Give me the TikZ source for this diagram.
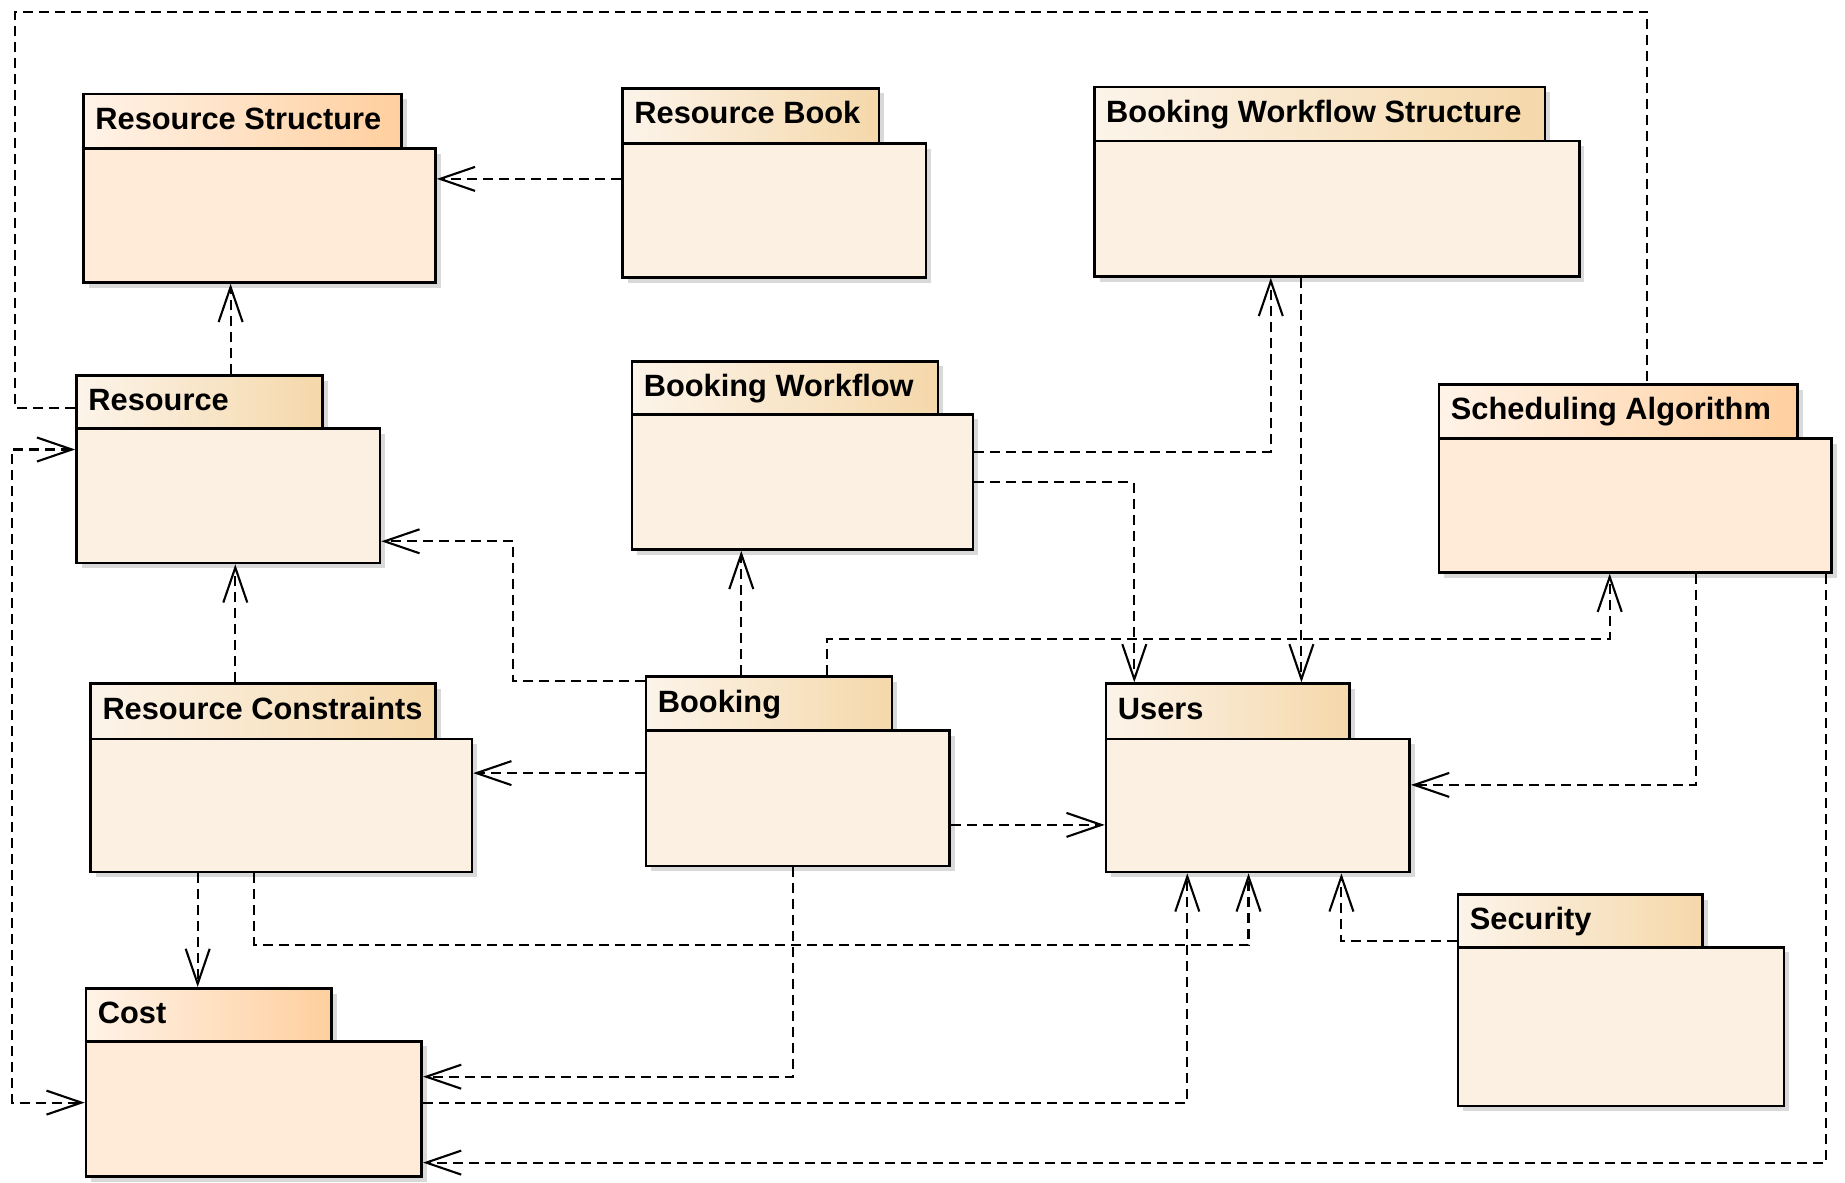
\documentclass[tikz,border=0pt]{standalone}
\usepackage{fontspec}
\setmainfont{Liberation Sans}
\usetikzlibrary{arrows.meta,fit,shadows}

% colour schemes for the package boxes
\definecolor{peachbody}{HTML}{FFEBD7}
\definecolor{peachtabL}{HTML}{FFF3E8}
\definecolor{peachtabR}{HTML}{FFCF9E}
\definecolor{creambody}{HTML}{FBF0E1}
\definecolor{creamtabL}{HTML}{FCF4EA}
\definecolor{creamtabR}{HTML}{F5D8AA}
\definecolor{shadowgrey}{HTML}{D9D9D9}

\tikzset{
  boxline/.style={draw=black, line width=1.3pt, inner sep=0pt,
    drop shadow={shadow xshift=2.6pt, shadow yshift=-2.6pt, fill=shadowgrey, opacity=1}},
  peachtab/.style={boxline, shading=axis, left color=peachtabL, right color=peachtabR},
  peachbody/.style={boxline, fill=peachbody},
  creamtab/.style={boxline, shading=axis, left color=creamtabL, right color=creamtabR},
  creambody/.style={boxline, fill=creambody},
  pkglabel/.style={inner sep=0pt, anchor=base west,
    font=\fontsize{15.4pt}{18pt}\selectfont\bfseries},
  barb/.tip={Straight Barb[length=17.5pt,width=12pt,line width=1.05pt]},
  plaindep/.style={draw=black, line width=1.05pt, dash pattern=on 5pt off 3pt},
  dep/.style={plaindep, -barb},
  twodep/.style={plaindep, barb-barb},
}

% package: name, scheme, label, left, top, tab right, tab bottom, right, bottom
\newcommand\umlpackage[9]{%
  \node[#2tab, fit={(#4,#5) (#6,#7)}] (#1-tab) {};
  \node[#2body, fit={(#4,#7) (#8,#9)}] (#1) {};
  \node[pkglabel] (#1-label) at ({#4+11.5},{#5+35.5}) {#3};
}

\begin{document}
\begin{tikzpicture}[x=0.5pt,y=-0.5pt]
\useasboundingbox (0,0) rectangle (1845,1182);

% packages
\umlpackage{RS}{peach}{Resource Structure}{83.5}{94}{401.5}{148.5}{435.5}{282.5}
\umlpackage{RB}{cream}{Resource Book}{622.5}{88.3}{879}{143.6}{926}{277.7}
\umlpackage{BWS}{cream}{Booking Workflow Structure}{1094.3}{87.1}{1545}{141.2}{1579.2}{276.5}
\umlpackage{Res}{cream}{Resource}{76.5}{375.3}{322.3}{428.5}{380}{563}
\umlpackage{BW}{cream}{Booking Workflow}{631.9}{361.2}{937.8}{414.2}{973.1}{549.5}
\umlpackage{SA}{peach}{Scheduling Algorithm}{1439}{384.3}{1797.3}{438.3}{1831.7}{572.3}
\umlpackage{RC}{cream}{Resource Constraints}{90.6}{683.7}{435.4}{739}{471.9}{872}
\umlpackage{Bk}{cream}{Booking}{646}{676.6}{892}{730.7}{949.6}{866}
\umlpackage{Us}{cream}{Users}{1106}{683.7}{1349.7}{739}{1409.7}{872}
\umlpackage{Sec}{cream}{Security}{1458}{894.3}{1702.7}{947.2}{1783.9}{1106.1}
\umlpackage{Cost}{peach}{Cost}{86}{988.3}{331.7}{1041.2}{421.7}{1176.5}

% dependencies
\draw[dep] (RB.west |- 0,178.9) -- (RS.east |- 0,178.9);
\draw[dep] (Res-tab.north -| 230.6,0) -- (RS.south -| 230.6,0);
\draw[plaindep] (Res-tab.west |- 0,408.3) -| (15.3,11.8) -| (SA-tab.north -| 1647.4,0);
\draw[twodep] (Res.west |- 0,449.5) -- (11.8,449.5) -- (11.8,1102.6) -- (Cost.west |- 0,1102.6);
\draw[dep] (RC-tab.north -| 235.3,0) -- (Res.south -| 235.3,0);
\draw[dep] (Bk-tab.west |- 0,681.3) -| (513,541.3) -- (Res.east |- 0,541.3);
\draw[dep] (Bk.west |- 0,773.1) -- (RC.east |- 0,773.1);
\draw[dep] (Bk-tab.north -| 741.3,0) -- (BW.south -| 741.3,0);
\draw[dep] (Bk-tab.north -| 827.2,0) |- (1609.7,639) -- (SA.south -| 1609.7,0);
\draw[dep] (Bk.east |- 0,824.9) -- (Us.west |- 0,824.9);
\draw[dep] (Bk.south -| 793.1,0) |- (Cost.east |- 0,1076.7);
\draw[dep] (BW.east |- 0,451.9) -| (BWS.south -| 1270.8,0);
\draw[dep] (BW.east |- 0,482.4) -| (Us-tab.north -| 1134.3,0);
\draw[dep] (BWS.south -| 1301.4,0) -- (Us-tab.north -| 1301.4,0);
\draw[dep] (SA.south -| 1695.6,0) |- (Us.east |- 0,784.9);
\draw[dep] (SA.south -| 1826.2,0) |- (Cost.east |- 0,1162.6);
\draw[dep] (RC.south -| 197.7,0) -- (Cost-tab.north -| 197.7,0);
\draw[dep] (RC.south -| 254.2,0) |- (1248.5,944.9) -- (Us.south -| 1248.5,0);
\draw[dep] (Cost.east |- 0,1102.6) -| (Us.south -| 1187.3,0);
\draw[dep] (Sec-tab.west |- 0,941.4) -| (Us.south -| 1341.4,0);
\end{tikzpicture}
\end{document}
